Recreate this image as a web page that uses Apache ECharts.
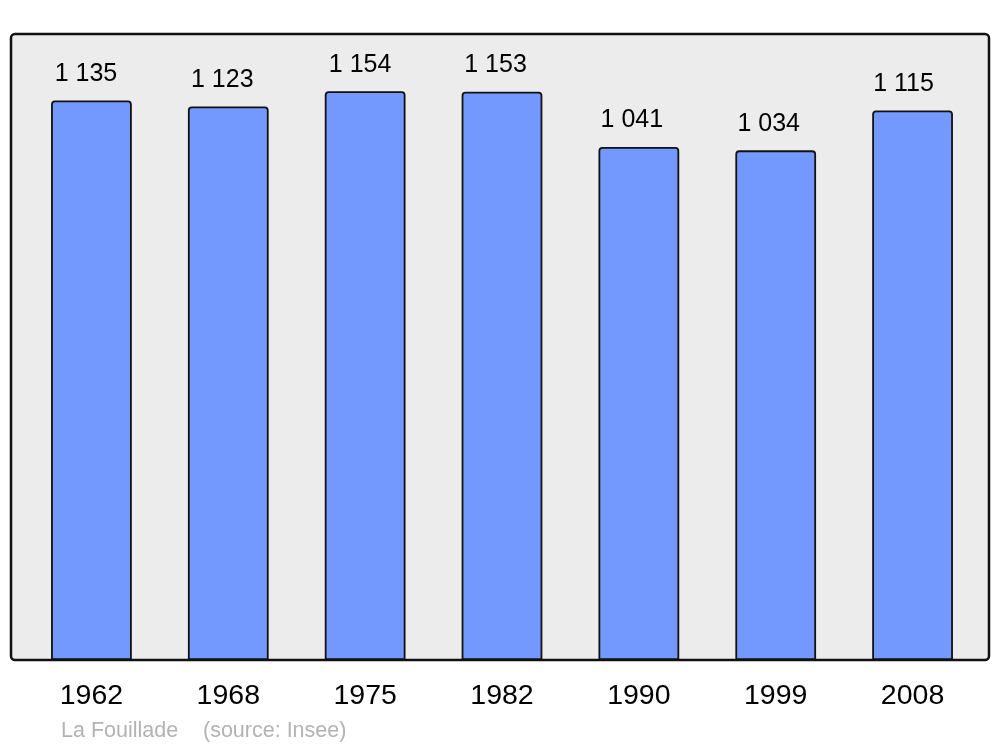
<!DOCTYPE html>
<html>
<head>
<meta charset="utf-8">
<script src="https://cdn.jsdelivr.net/npm/echarts@6/dist/echarts.min.js"></script>
<style>html,body{margin:0;padding:0;background:#fff;}#c{width:1000px;height:747px;}</style>
</head>
<body>
<div id="c"></div>
<script>
var years = ['1962', '1968', '1975', '1982', '1990', '1999', '2008'];
var population = [1135, 1123, 1154, 1153, 1041, 1034, 1115];
var placeName = 'La Fouillade';
var sourceText = '(source: Insee)';

function fmt(v) {
  var s = String(v);
  return s.replace(/\B(?=(\d{3})+(?!\d))/g, ' ');
}

// horizontal nudge of each value label (style only)
var labelShift = [-5.5, -6, -5, -6.5, -7, -7, -9];

var chart = echarts.init(document.getElementById('c'), null, {renderer: 'canvas'});
chart.setOption({
  animation: false,
  backgroundColor: '#ffffff',
  textStyle: {fontFamily: 'Liberation Sans, Arial, sans-serif'},
  graphic: [
    {
      type: 'rect',
      z: -10,
      shape: {x: 11, y: 34, width: 978, height: 626, r: 4},
      style: {fill: '#ececec', stroke: '#111111', lineWidth: 2.5}
    },
    {
      type: 'text',
      left: 61, top: 720,
      style: {text: placeName, fill: '#b3b3b3', font: '21.5px "Liberation Sans", Arial, sans-serif'}
    },
    {
      type: 'text',
      left: 203, top: 720,
      style: {text: sourceText, fill: '#b3b3b3', font: '21.5px "Liberation Sans", Arial, sans-serif'}
    }
  ],
  grid: {left: 23, right: 19, top: 34, bottom: 87, containLabel: false},
  xAxis: {
    type: 'category',
    data: years,
    axisLine: {show: false},
    axisTick: {show: false},
    axisLabel: {color: '#000', fontSize: 28.5, margin: 22, fontFamily: 'Liberation Sans, Arial, sans-serif'}
  },
  yAxis: {
    type: 'value',
    min: 0,
    max: 1270,
    show: false,
    splitLine: {show: false}
  },
  series: [{
    type: 'bar',
    data: population.map(function (v, i) {
      return {value: v, label: {offset: [labelShift[i], 0]}};
    }),
    barWidth: '59%',
    itemStyle: {color: '#7399ff', borderColor: '#111', borderWidth: 1.8, borderRadius: [3, 3, 0, 0]},
    label: {
      show: true,
      position: 'top',
      distance: 14,
      color: '#000',
      fontSize: 25,
      fontFamily: 'Liberation Sans, Arial, sans-serif',
      formatter: function (p) { return fmt(p.value); }
    }
  }]
});
</script>
</body>
</html>
